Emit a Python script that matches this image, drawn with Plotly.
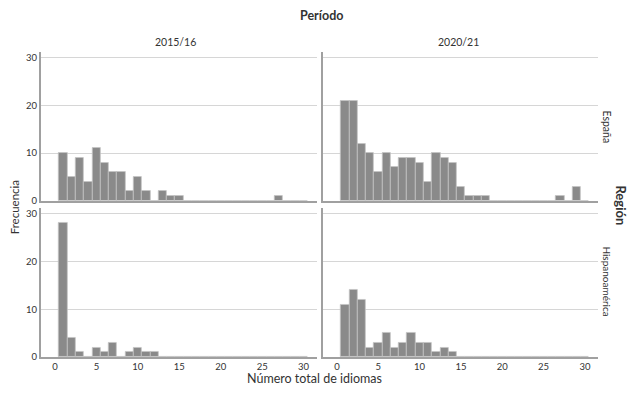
import plotly.graph_objects as go

# Data: frequency by number of languages (x = 1..30)
x_vals = list(range(1, 31))
espana_2015 = [10, 5, 9, 4, 11, 8, 6, 6, 2, 5, 2, 0, 2, 1, 1, 0, 0, 0, 0, 0, 0, 0, 0, 0, 0, 0, 1, 0, 0, 0]
espana_2020 = [21, 21, 12, 10, 6, 10, 7, 9, 9, 8, 4, 10, 9, 8, 3, 1, 1, 1, 0, 0, 0, 0, 0, 0, 0, 0, 1, 0, 3, 0]
hispano_2015 = [28, 4, 1, 0, 2, 1, 3, 0, 1, 2, 1, 1, 0, 0, 0, 0, 0, 0, 0, 0, 0, 0, 0, 0, 0, 0, 0, 0, 0, 0]
hispano_2020 = [11, 14, 12, 2, 3, 5, 2, 3, 5, 3, 3, 1, 2, 1, 0, 0, 0, 0, 0, 0, 0, 0, 0, 0, 0, 0, 0, 0, 0, 0]

periods = ["2015/16", "2020/21"]
regions = ["España", "Hispanoamérica"]
x_ticks = [0, 5, 10, 15, 20, 25, 30]
y_ticks = [0, 10, 20, 30]

# The page body has an 8px margin; keep the figure inside the window.
OFF = 8
W, H = 635 - OFF, 400 - 2 * OFF
FONT = "Lato, 'DejaVu Sans', sans-serif"
BAR = "#8a8a8a"
BAR_LINE = "#c4c4c4"
GRID = "#d6d6d6"
AXIS = "#a0a0a0"
TXT = "#333333"

fig = go.Figure()

panels = [
    (espana_2015, "x", "y"),
    (espana_2020, "x2", "y2"),
    (hispano_2015, "x3", "y3"),
    (hispano_2020, "x4", "y4"),
]
for vals, xa, ya in panels:
    fig.add_trace(go.Bar(
        x=x_vals, y=vals, width=1.0, xaxis=xa, yaxis=ya,
        marker=dict(color=BAR, line=dict(color=BAR_LINE, width=0.8)),
        showlegend=False, hoverinfo="x+y",
    ))

def fx(p):
    return (p - OFF) / W

def fy(p):
    return 1 - (p - OFF) / H

def px_x(a, b):
    return [fx(a), fx(b)]

def px_y(top, bottom):
    return [fy(bottom), fy(top)]

xdom_l = px_x(40.7, 316.7)
xdom_r = px_x(322.7, 598)
ydom_t = px_y(52.5, 203.3)
ydom_b = px_y(210.5, 361.7)

xrange_ = [-1.72, 31.58]
yrange_ = [0, 31.2]

def xaxis(dom, anchor, show_labels):
    return dict(domain=dom, anchor=anchor, range=xrange_, tickvals=x_ticks,
                showticklabels=show_labels, showgrid=False, zeroline=False,
                showline=True, linecolor=AXIS, linewidth=1.5, ticks="",
                tickfont=dict(family=FONT, size=9.5, color=TXT), fixedrange=True)

def yaxis(dom, anchor, show_labels):
    return dict(domain=dom, anchor=anchor, range=yrange_, tickvals=y_ticks,
                showticklabels=show_labels, showgrid=True, gridcolor=GRID, gridwidth=1.2,
                zeroline=False, showline=True, linecolor=AXIS, linewidth=1.5, ticks="",
                tickfont=dict(family=FONT, size=9.5, color=TXT), fixedrange=True)

fig.update_layout(
    width=W, height=H,
    margin=dict(l=0, r=0, t=0, b=0),
    paper_bgcolor="white", plot_bgcolor="white",
    bargap=0,
    xaxis=xaxis(xdom_l, "y", False),
    yaxis=yaxis(ydom_t, "x", True),
    xaxis2=xaxis(xdom_r, "y2", False),
    yaxis2=yaxis(ydom_t, "x2", False),
    xaxis3=xaxis(xdom_l, "y3", True),
    yaxis3=yaxis(ydom_b, "x3", True),
    xaxis4=xaxis(xdom_r, "y4", True),
    yaxis4=yaxis(ydom_b, "x4", False),
)

def note(text, x, y, size, angle=0):
    return dict(text=text, x=fx(x), y=fy(y), xref="paper", yref="paper",
                xanchor="center", yanchor="middle", showarrow=False, textangle=angle,
                font=dict(family=FONT, size=size, color=TXT))

ann = [
    note("<b>Período</b>", 321, 16, 12.5),
    note(periods[0], 175, 42, 10.5),
    note(periods[1], 458, 42, 10.5),
    note(regions[0], 607, 128, 10.5, 90),
    note(regions[1], 607, 285, 10, 90),
    note("<b>Región</b>", 621, 208, 13, 90),
    note("Frecuencia", 14, 210, 11.5, -90),
    note("Número total de idiomas", 314, 383, 12.5),
]
fig.update_layout(annotations=ann)

fig.write_html("out.html")
